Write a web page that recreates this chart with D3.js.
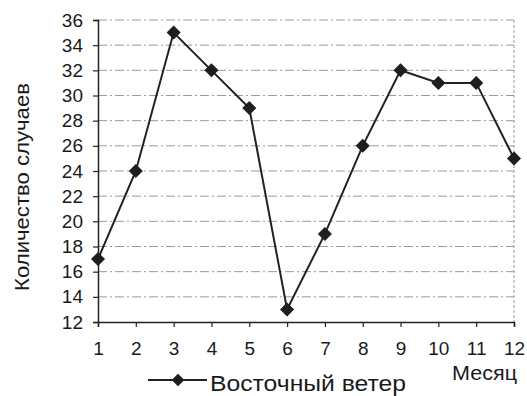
<!DOCTYPE html>
<html>
<head>
<meta charset="utf-8">
<script src="https://cdn.jsdelivr.net/npm/d3@7"></script>
<style>
  html, body { margin: 0; padding: 0; background: #fff; }
  svg { display: block; }
  text { font-family: Arial, "Liberation Sans", sans-serif; fill: #1a1a1a; }
</style>
</head>
<body>
<svg id="chart" width="527" height="396"></svg>
<script>
// Monthly counts of easterly wind cases
const months = [1, 2, 3, 4, 5, 6, 7, 8, 9, 10, 11, 12];
const eastWind = [17, 24, 35, 32, 29, 13, 19, 26, 32, 31, 31, 25];
const yTicks = [12, 14, 16, 18, 20, 22, 24, 26, 28, 30, 32, 34, 36];
const seriesName = "Восточный ветер";
const yTitle = "Количество случаев";
const xTitle = "Месяц";

const svg = d3.select("#chart");
const plot = { left: 98, right: 514, top: 20, bottom: 322 };

const x = d3.scaleLinear().domain([1, 12]).range([plot.left, plot.right]);
const y = d3.scaleLinear().domain([12, 36]).range([plot.bottom, plot.top]);

// Horizontal gridlines
svg.append("g")
  .selectAll("line")
  .data(yTicks.slice(1))
  .join("line")
  .attr("x1", plot.left).attr("x2", plot.right)
  .attr("y1", d => y(d)).attr("y2", d => y(d))
  .attr("stroke", "#9a9a9a")
  .attr("stroke-width", 1)
  .attr("stroke-dasharray", "9 3 2 3");

// Right border of the plot area
svg.append("line")
  .attr("x1", plot.right).attr("x2", plot.right)
  .attr("y1", plot.top).attr("y2", plot.bottom)
  .attr("stroke", "#9a9a9a")
  .attr("stroke-dasharray", "3 2");

// Y axis
const yAxis = svg.append("g")
  .attr("transform", `translate(${plot.left},0)`)
  .call(d3.axisLeft(y).tickValues(yTicks).tickSize(5).tickPadding(10).tickFormat(d3.format("d")));
yAxis.select(".domain").attr("stroke", "#222").attr("stroke-width", 1.5);
yAxis.selectAll(".tick line").attr("stroke", "#222").attr("stroke-width", 1.2);
yAxis.selectAll(".tick text")
  .style("font-size", "19px")
  .attr("fill", "#1a1a1a")
  .attr("font-family", "Arial, 'Liberation Sans', sans-serif");

// X axis
const xAxis = svg.append("g")
  .attr("transform", `translate(0,${plot.bottom})`)
  .call(d3.axisBottom(x).tickValues(months).tickSize(5).tickPadding(15).tickFormat(d3.format("d")));
xAxis.select(".domain").attr("stroke", "#222").attr("stroke-width", 1.5);
xAxis.selectAll(".tick line").attr("stroke", "#222").attr("stroke-width", 1.2);
xAxis.selectAll(".tick text")
  .style("font-size", "19px")
  .attr("fill", "#1a1a1a")
  .attr("font-family", "Arial, 'Liberation Sans', sans-serif");

// Series line
const pts = months.map((m, i) => [m, eastWind[i]]);
svg.append("path")
  .datum(pts)
  .attr("fill", "none")
  .attr("stroke", "#222")
  .attr("stroke-width", 2)
  .attr("d", d3.line().x(d => x(d[0])).y(d => y(d[1])));

// Diamond markers
const diamond = d3.symbol().type(d3.symbolSquare).size(80);
svg.append("g")
  .selectAll("path")
  .data(pts)
  .join("path")
  .attr("d", diamond)
  .attr("transform", d => `translate(${x(d[0])},${y(d[1])}) rotate(45)`)
  .attr("fill", "#1e1e1e")
  .attr("stroke", "#1e1e1e")
  .attr("stroke-width", 1);

// Axis titles
svg.append("text")
  .attr("transform", "translate(29,187) rotate(-90)")
  .attr("text-anchor", "middle")
  .attr("textLength", 208)
  .attr("lengthAdjust", "spacingAndGlyphs")
  .style("font-size", "20px")
  .text(yTitle);

svg.append("text")
  .attr("x", 452).attr("y", 380)
  .attr("textLength", 65)
  .attr("lengthAdjust", "spacingAndGlyphs")
  .style("font-size", "21px")
  .text(xTitle);

// Legend
const lg = svg.append("g");
lg.append("line")
  .attr("x1", 148).attr("x2", 207)
  .attr("y1", 380).attr("y2", 380)
  .attr("stroke", "#222").attr("stroke-width", 2);
lg.append("path")
  .attr("d", diamond)
  .attr("transform", "translate(178,380) rotate(45)")
  .attr("fill", "#1e1e1e");
lg.append("text")
  .attr("x", 210).attr("y", 391)
  .attr("textLength", 196)
  .attr("lengthAdjust", "spacingAndGlyphs")
  .style("font-size", "22px")
  .text(seriesName);
</script>
</body>
</html>
